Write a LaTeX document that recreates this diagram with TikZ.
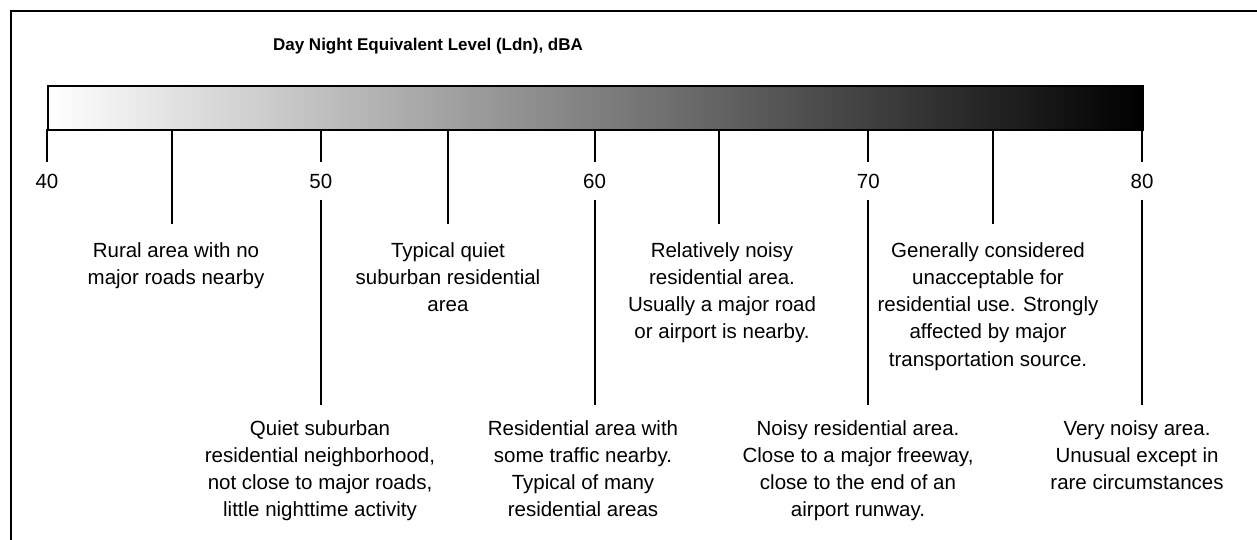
\documentclass[tikz,border=0pt]{standalone}
\usepackage{fontspec}
\setmainfont{Liberation Sans}
\begin{document}
\begin{tikzpicture}[x=1pt,y=-1pt,
  frameline/.style={line width=2pt},
  tickline/.style={line width=2pt},
  desc/.style={font=\fontsize{20.5}{27.3}\selectfont, align=center, inner sep=0pt, anchor=north},
  numlab/.style={font=\fontsize{20.5}{24}\selectfont, inner sep=0pt, minimum height=37pt},
  titlelab/.style={font=\bfseries\fontsize{17}{20}\selectfont, inner sep=0pt}
]
\useasboundingbox (0,0) rectangle (1257,540);
% frame
\draw[frameline] (11,540) -- (11,11) -- (1257,11);
% title
\node[titlelab] (title) at (428,46) {Day Night Equivalent Level (Ldn), dBA};
% gradient bar
\node[draw, line width=2pt, left color=white, right color=black, minimum width=1095pt, minimum height=44pt, inner sep=0pt, anchor=north west] (bar) at (47,85) {};
% tick coordinates on the bar bottom
\coordinate (t40) at (47,129);
\coordinate (t50) at (320.75,129);
\coordinate (t60) at (594.5,129);
\coordinate (t70) at (868.25,129);
\coordinate (t80) at (1142,129);
\coordinate (t45) at (172,129);
\coordinate (t55) at (448,129);
\coordinate (t65) at (719,129);
\coordinate (t75) at (993,129);
% ends of intermediate ticks
\coordinate (e45) at (172,224);
\coordinate (e55) at (448,224);
\coordinate (e65) at (719,224);
\coordinate (e75) at (993,224);
% ends of long ticks
\coordinate (b50) at (320.75,405);
\coordinate (b60) at (594.5,405);
\coordinate (b70) at (868.25,405);
\coordinate (b80) at (1142,405);
% number labels
\node[numlab] (l40) at (47,181) {40};
\node[numlab] (l50) at (320.75,181) {50};
\node[numlab] (l60) at (594.5,181) {60};
\node[numlab] (l70) at (868.25,181) {70};
\node[numlab] (l80) at (1142,181) {80};
% tick lines
\draw[tickline] (t40) -- (l40);
\foreach \v in {50,60,70,80}{
  \draw[tickline] (t\v) -- (l\v);
  \draw[tickline] (l\v) -- (b\v);
}
\foreach \v in {45,55,65,75}{
  \draw[tickline] (t\v) -- (e\v);
}
% upper descriptions
\node[desc] (d45) at (176,242) {Rural area with no\\major roads nearby};
\node[desc] (d55) at (448,242) {Typical quiet\\suburban residential\\area};
\node[desc] (d65) at (722,242) {Relatively noisy\\residential area.\\Usually a major road\\or airport is nearby.};
\node[desc] (d75) at (988,242) {Generally considered\\unacceptable for\\residential use. Strongly\\affected by major\\transportation source.};
% lower descriptions
\node[desc] (d50) at (320,420) {Quiet suburban\\residential neighborhood,\\not close to major roads,\\little nighttime activity};
\node[desc] (d60) at (583,420) {Residential area with\\some traffic nearby.\\Typical of many\\residential areas};
\node[desc] (d70) at (858,420) {Noisy residential area.\\Close to a major freeway,\\close to the end of an\\airport runway.};
\node[desc] (d80) at (1137,420) {Very noisy area.\\Unusual except in\\rare circumstances};
\end{tikzpicture}
\end{document}
